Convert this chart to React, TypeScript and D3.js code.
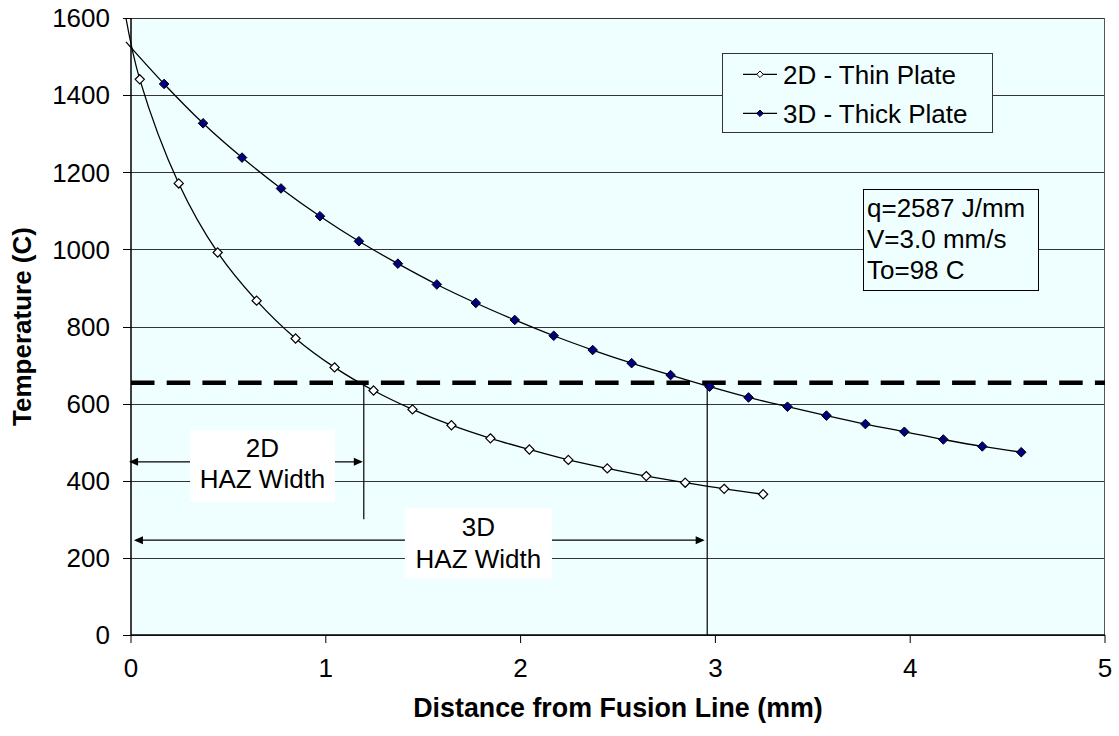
import React from "react";
import * as d3 from "d3";

// ---- data ----
const thinX = [0.045, 0.245, 0.445, 0.645, 0.845, 1.045, 1.245, 1.445, 1.645, 1.845, 2.045, 2.245, 2.445, 2.645, 2.845, 3.045, 3.245];
const thinT = [1441, 1171, 992, 867, 769, 694, 634, 585, 544, 510, 481, 454, 432, 412, 395, 379, 365];
const thickX = [0.17, 0.37, 0.57, 0.77, 0.97, 1.17, 1.37, 1.57, 1.77, 1.97, 2.17, 2.37, 2.57, 2.77, 2.97, 3.17, 3.37, 3.57, 3.77, 3.97, 4.17, 4.37, 4.57];
const thickT = [1429, 1327, 1238, 1158, 1086, 1021, 963, 909, 861, 817, 776, 739, 705, 674, 644, 616, 592, 569, 547, 527, 507, 489, 474];
// unmarked lead-in points near the fusion line
const thinLead = [-0.026, 1600];
const thickLead = [-0.026, 1538];

const xTicks = [0, 1, 2, 3, 4, 5];
const yTicks = [0, 200, 400, 600, 800, 1000, 1200, 1400, 1600];
const seriesNames = ["2D - Thin Plate", "3D - Thick Plate"];
const infoLines = ["q=2587 J/mm", "V=3.0 mm/s", "To=98 C"];

const threshold = 654;
const haz2D = 1.195;
const haz3D = 2.958;

const W = 1119;
const H = 736;
const FONT = "'Liberation Sans', Arial, sans-serif";
const FS = 26;

export default function App() {
  const x = d3.scaleLinear().domain([0, 5]).range([131, 1105]);
  const y = d3.scaleLinear().domain([0, 1600]).range([635, 18]);

  const line = d3
    .line<[number, number]>()
    .x((d) => x(d[0]))
    .y((d) => y(d[1]))
    .curve(d3.curveCatmullRom.alpha(0.5));

  const thinPts: [number, number][] = [[thinLead[0], thinLead[1]], ...thinX.map((v, i) => [v, thinT[i]] as [number, number])];
  const thickPts: [number, number][] = [[thickLead[0], thickLead[1]], ...thickX.map((v, i) => [v, thickT[i]] as [number, number])];

  const diamond = (cx: number, cy: number, r: number) =>
    `M${cx},${cy - r}L${cx + r},${cy}L${cx},${cy + r}L${cx - r},${cy}Z`;

  const arrow = (x1: number, x2: number, yy: number) => {
    const a = x(x1);
    const b = x(x2);
    const c = y(yy);
    const L = 9;
    const hw = 4;
    return (
      <g>
        <line x1={a + 2} x2={b - 2} y1={c} y2={c} stroke="#000" strokeWidth={1.2} />
        <path d={`M${a},${c}L${a + L},${c - hw}L${a + L},${c + hw}Z`} fill="#000" />
        <path d={`M${b},${c}L${b - L},${c - hw}L${b - L},${c + hw}Z`} fill="#000" />
      </g>
    );
  };

  const x0 = x(0);
  const x5 = x(5);

  return (
    <svg width={W} height={H} style={{ position: "absolute", left: 0, top: 0, background: "#fff" }} fontFamily={FONT}>
      {/* plot background */}
      <rect x={x0} y={y(1600)} width={x5 - x0} height={y(0) - y(1600)} fill="#EFFFFF" />
      {/* gridlines */}
      {yTicks.map((t) => (
        <line key={"g" + t} x1={x0} x2={x5} y1={Math.round(y(t)) + 0.5} y2={Math.round(y(t)) + 0.5} stroke="#333" strokeWidth={1} />
      ))}
      <line x1={x5 - 0.5} x2={x5 - 0.5} y1={y(1600)} y2={y(0)} stroke="#555" strokeWidth={1} />

      {/* threshold dashed line */}
      <line x1={x0} x2={x5} y1={y(threshold)} y2={y(threshold)} stroke="#000" strokeWidth={4.5} strokeDasharray="23.5,12.2" />

      {/* HAZ vertical lines */}
      <line x1={x(haz2D)} x2={x(haz2D)} y1={y(threshold)} y2={y(300)} stroke="#000" strokeWidth={1.2} />
      <line x1={x(haz3D)} x2={x(haz3D)} y1={y(threshold)} y2={y(0)} stroke="#000" strokeWidth={1.2} />

      {/* arrows */}
      {arrow(-0.01, 1.19, 449)}
      {arrow(0.015, 2.945, 246)}

      {/* HAZ label boxes */}
      <rect x={x(0.303)} y={y(532)} width={x(1.047) - x(0.303)} height={y(345) - y(532)} fill="#fff" />
      <text x={(x(0.303) + x(1.047)) / 2} y={457} fontSize={FS} textAnchor="middle">2D</text>
      <text x={(x(0.303) + x(1.047)) / 2} y={488} fontSize={FS} textAnchor="middle">HAZ Width</text>

      <rect x={x(1.406)} y={y(329)} width={x(2.161) - x(1.406)} height={y(147) - y(329)} fill="#fff" />
      <text x={(x(1.406) + x(2.161)) / 2} y={536} fontSize={FS} textAnchor="middle">3D</text>
      <text x={(x(1.406) + x(2.161)) / 2} y={568} fontSize={FS} textAnchor="middle">HAZ Width</text>

      {/* series lines */}
      <path d={line(thinPts) || ""} fill="none" stroke="#000" strokeWidth={1.3} />
      <path d={line(thickPts) || ""} fill="none" stroke="#000" strokeWidth={1.3} />

      {/* markers */}
      {thinX.map((v, i) => (
        <path key={"t" + i} d={diamond(x(v), y(thinT[i]), 4.6)} fill="#fff" stroke="#000" strokeWidth={1.2} />
      ))}
      {thickX.map((v, i) => (
        <path key={"k" + i} d={diamond(x(v), y(thickT[i]), 4.8)} fill="#000080" stroke="#000" strokeWidth={1} />
      ))}

      {/* axes */}
      <line x1={x0} x2={x0} y1={y(1600)} y2={y(0)} stroke="#000" strokeWidth={1.5} />
      <line x1={x0} x2={x5} y1={y(0)} y2={y(0)} stroke="#000" strokeWidth={1.5} />
      {yTicks.map((t) => (
        <g key={"yt" + t}>
          <line x1={x0 - 8} x2={x0} y1={Math.round(y(t)) + 0.5} y2={Math.round(y(t)) + 0.5} stroke="#000" strokeWidth={1} />
          <text x={110} y={y(t)} dy="0.36em" fontSize={FS} textAnchor="end">{t}</text>
        </g>
      ))}
      {xTicks.map((t) => (
        <g key={"xt" + t}>
          <line x1={x(t)} x2={x(t)} y1={y(0)} y2={y(0) + 8} stroke="#000" strokeWidth={1} />
          <text x={x(t)} y={677} fontSize={FS} textAnchor="middle">{t}</text>
        </g>
      ))}

      {/* axis titles */}
      <text x={(x0 + x5) / 2} y={717} fontSize={26.8} fontWeight="bold" textAnchor="middle">Distance from Fusion Line (mm)</text>
      <text transform={`translate(31, ${(y(0) + y(1600)) / 2}) rotate(-90)`} fontSize={FS} fontWeight="bold" textAnchor="middle">Temperature (C)</text>

      {/* legend */}
      <rect x={722.5} y={53.5} width={270} height={79} fill="#EFFFFF" stroke="#333" strokeWidth={1} />
      {seriesNames.map((n, i) => {
        const cy = 74.3 + i * 39;
        return (
          <g key={"lg" + i}>
            <line x1={743} x2={777} y1={cy} y2={cy} stroke="#000" strokeWidth={1.3} />
            <path d={diamond(760, cy, 3.3)} fill={i === 0 ? "#fff" : "#000080"} stroke="#000" strokeWidth={1} />
            <text x={783} y={cy + 10} fontSize={FS}>{n}</text>
          </g>
        );
      })}

      {/* info box */}
      <rect x={863.5} y={189.5} width={175} height={101} fill="#EFFFFF" stroke="#000" strokeWidth={1} />
      {infoLines.map((s, i) => (
        <text key={"in" + i} x={867} y={217 + i * 31} fontSize={FS}>{s}</text>
      ))}
    </svg>
  );
}
